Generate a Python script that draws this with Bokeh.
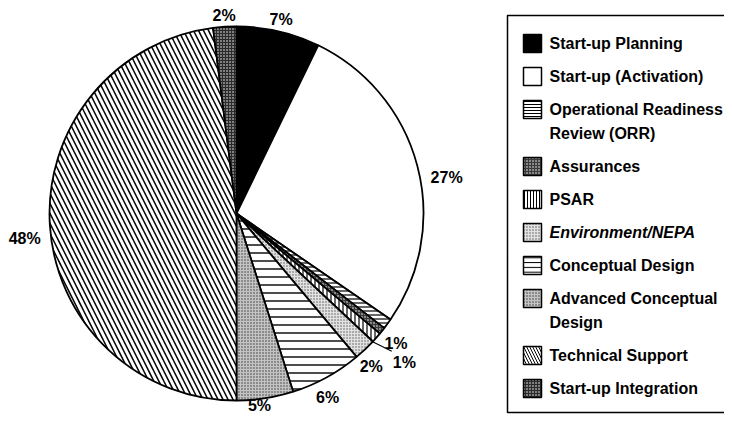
import math
from bokeh.plotting import figure
from bokeh.models import Range1d
from bokeh.embed import file_html
from bokeh.resources import INLINE
from bokeh.core.properties import value

# ---- data ----
categories = ["Start-up Planning", "Start-up (Activation)",
              "Operational Readiness\nReview (ORR)", "Assurances", "PSAR",
              "Environment/NEPA", "Conceptual Design",
              "Advanced Conceptual\nDesign", "Technical Support",
              "Start-up Integration"]
shares = [7.2, 27.4, 0.9, 0.6, 0.9, 1.9, 6.2, 4.9, 48.0, 2.0]
pct_labels = ["7%", "27%", "1%", "", "1%", "2%", "6%", "5%", "48%", "2%"]

# ---- styles (one per category) ----
styles = [
    dict(fill_color="black", hatch_pattern=" ", hatch_color="black", hatch_scale=6, hw=1.0),
    dict(fill_color="white", hatch_pattern=" ", hatch_color="black", hatch_scale=6, hw=1.0),
    dict(fill_color="white", hatch_pattern="-", hatch_color="black", hatch_scale=4, hw=1.2),
    dict(fill_color="#3a3a3a", hatch_pattern=".", hatch_color="white", hatch_scale=3, hw=1.0),
    dict(fill_color="white", hatch_pattern="|", hatch_color="black", hatch_scale=4, hw=1.2),
    dict(fill_color="#e2e2e2", hatch_pattern=".", hatch_color="#555555", hatch_scale=3, hw=1.0),
    dict(fill_color="white", hatch_pattern="-", hatch_color="black", hatch_scale=8, hw=1.4),
    dict(fill_color="#c4c4c4", hatch_pattern=".", hatch_color="#333333", hatch_scale=3, hw=1.0),
    dict(fill_color="white", hatch_pattern="\\", hatch_color="black", hatch_scale=10, hw=1.5),
    dict(fill_color="#2a2a2a", hatch_pattern=".", hatch_color="white", hatch_scale=3, hw=1.0),
]
italic = {"Environment/NEPA"}
# label placement: radius factor and angle nudge (deg)
label_rf = [1.065, 1.14, 1.1, 1.1, 1.2, 1.09, 1.10, 1.035, 1.14, 1.06]
label_da = [0.0, 5.0, 3.0, 0.0, 0.0, 2.0, 2.5, 2.0, -3.0, 0.0]

W, H = 724, 414
CX, CY, R = 236, H - 213, 187

p = figure(width=W, height=H, output_backend="svg", toolbar_location=None,
           x_range=Range1d(0, W), y_range=Range1d(0, H),
           x_axis_type=None, y_axis_type=None, min_border=0,
           background_fill_color="white", border_fill_color="white")
p.grid.visible = False
p.outline_line_color = None

FONT = value("Liberation Sans")
total = float(sum(shares))
cum = 0.0
for i, (cat, s) in enumerate(zip(categories, shares)):
    th0 = cum / total * 360.0
    th1 = (cum + s) / total * 360.0
    cum += s
    st = styles[i]
    p.wedge(x=[CX], y=[CY], radius=R,
            start_angle=90 - th0, end_angle=90 - th1, start_angle_units="deg",
            end_angle_units="deg", direction="clock",
            fill_color=st["fill_color"], hatch_pattern=st["hatch_pattern"],
            hatch_color=st["hatch_color"], hatch_scale=st["hatch_scale"],
            hatch_weight=st["hw"], line_color="black", line_width=1.8)
    lab = pct_labels[i]
    if lab:
        mid = math.radians((th0 + th1) / 2 + label_da[i])
        rf = label_rf[i]
        lx = CX + R * rf * math.sin(mid)
        ly = CY + R * rf * math.cos(mid)
        if rf > 1.15:
            p.line(x=[CX + R * math.sin(mid + 0.03), CX + R * 1.11 * math.sin(mid)],
                   y=[CY + R * math.cos(mid + 0.03), CY + R * 1.11 * math.cos(mid)],
                   line_color="black", line_width=1.2)
        p.text(x=[lx], y=[ly], text=[lab], text_font=FONT, text_font_style="bold",
               text_font_size="16px", text_align="center", text_baseline="middle",
               text_color="black")

# ---- legend ----
p.quad(left=[507], right=[740], top=[H - 15], bottom=[H - 412], fill_color=None,
       line_color="black", line_width=1.5)
IX, TX = 532, 549
y = H - 43
for i, cat in enumerate(categories):
    st = styles[i]
    p.rect(x=[IX], y=[y], width=18, height=18, fill_color=st["fill_color"],
           hatch_pattern=st["hatch_pattern"], hatch_color=st["hatch_color"],
           hatch_scale=max(3, st["hatch_scale"] * 0.6), hatch_weight=1.0,
           line_color="black", line_width=1.5)
    lines = cat.split("\n")
    for k, ln in enumerate(lines):
        p.text(x=[TX], y=[y - 24 * k], text=[ln], text_font=FONT,
               text_font_style="bold italic" if cat in italic else "bold",
               text_font_size="16px", text_align="left", text_baseline="middle",
               text_color="black")
    y -= 33 + 24 * (len(lines) - 1)

open("out.html", "w").write(file_html(p, INLINE))
